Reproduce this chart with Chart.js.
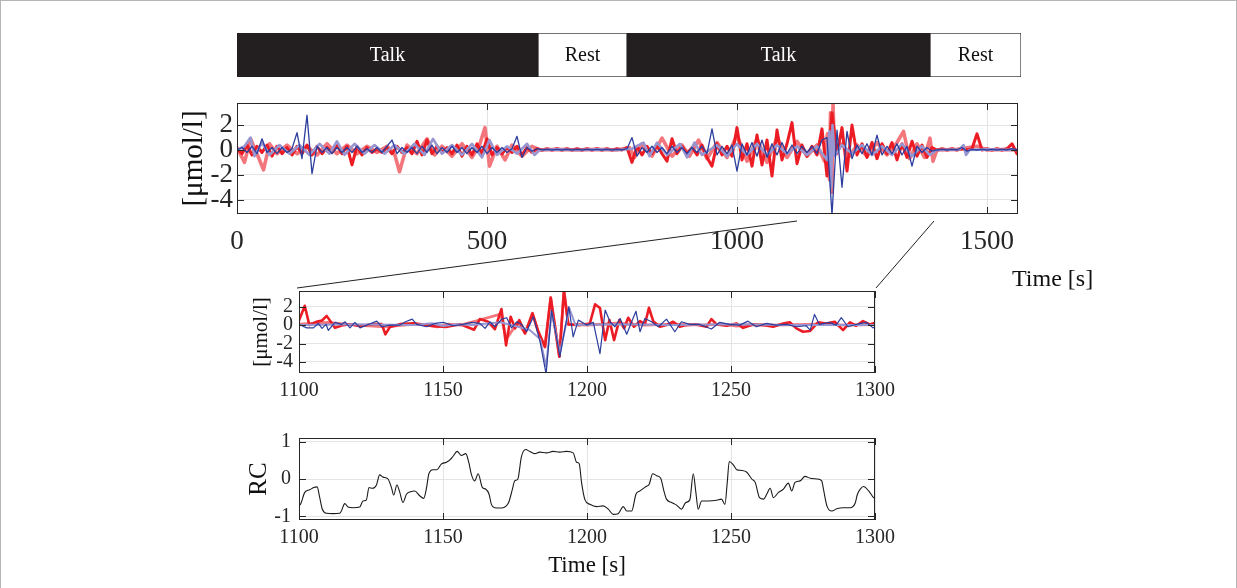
<!DOCTYPE html>
<html>
<head>
<meta charset="utf-8">
<title>Talk / Rest recording</title>
<script src="https://cdn.jsdelivr.net/npm/chart.js@4.4.1/dist/chart.umd.min.js"></script>
<style>
  body { margin: 0; width: 1237px; height: 588px; position: relative; overflow: hidden; background: #fff; }
  canvas, svg, .lbl, .page { position: absolute; }
  .page { left: 0; top: 0; width: 1235px; height: 620px; border: 1px solid #b5b5b5; }
  .lbl { font-family: 'Liberation Serif', 'Times New Roman', serif; color: #111; white-space: nowrap; }
</style>
</head>
<body>
<div class="page"></div>
<canvas id="phases" width="784" height="44" style="left:237px;top:33px"></canvas>
<canvas id="overview" width="875" height="180" style="left:165px;top:90px"></canvas>
<canvas id="zoomed" width="660" height="125" style="left:240px;top:283px"></canvas>
<canvas id="rc" width="660" height="160" style="left:240px;top:428px"></canvas>
<svg width="1237" height="588" style="left:0;top:0">
  <line x1="797" y1="221" x2="297" y2="288" stroke="#222" stroke-width="1"/>
  <line x1="934" y1="221" x2="876" y2="288" stroke="#222" stroke-width="1"/>
</svg>
<div class="lbl" style="left:1012px;top:263px;font-size:24px;line-height:30px">Time [s]</div>

<script>
const SERIF = "'Liberation Serif', 'Times New Roman', serif";
const INK = '#262626';
const GRID = '#e4e4e4';

// protocol blocks (seconds)
const phaseLabels = ['Talk', 'Rest', 'Talk', 'Rest'];
const phaseLengths = [602, 178, 606, 182];

// overview, dark series on a 10 s grid
const topStep = 10;
const topRed = [
  0.1, -0.3, 0.4, -0.4, 0.3, -0.2, 0.4, -0.5, 0.3, -0.3,
  0.2, -0.4, 0.3, -0.3, 0.4, -0.4, 0.3, -0.3, 0.2, -0.2,
  0.4, -0.3, 0.3, -1.2, 0.3, -0.4, 0.2, -0.2, 0.1, -0.2,
  0.2, -0.3, 0.3, -0.2, 0.2, -0.3, 0.7, -0.4, 0.8, -0.3,
  0.3, -0.2, 0.2, -0.3, 0.4, -0.5, 0.3, -0.4, 0.5, -0.3,
  0.9, -0.4, 0.2, -0.3, 0.2, -0.2, 0.3, -0.4, 0.2, -0.2,
  0.1, 0, 0.1, 0, 0.1, 0, 0.1, 0, 0.1, 0,
  0.1, 0, 0.1, 0, 0.1, 0, 0.1, 0, 0.2, -1.0,
  0.3, -0.4, 0.3, -0.3, 0.4, -0.3, -0.9, 0.9, -0.3, 0.3,
  -0.3, 0.2, -0.4, 0.4, -0.6, -1.3, 0.5, -0.4, 0.3, -0.5,
  1.8, -0.8, 0.5, -1.3, 1.2, -1.2, 0.8, -2.1, 1.6, -0.8,
  0.5, 2.2, -1.1, 0.4, -0.5, 0.3, -0.4, 1.7, -2.1, 3.0,
  -0.3, 1.8, -1.7, 2.0, -0.4, 0.5, -0.6, 0.6, -0.7, 0.5,
  -0.3, 0.6, -0.8, 0.5, -0.6, 0.7, -0.5, 0.4, -0.6, 0.2,
  0, 0.1, 0, 0.1, 0, 0.1, 0, 0.1, 1.3, 0,
  0.1, 0, 0.1, 0, 0.1, 0.5, -0.3
];
const topBlue = [
  0, 0.2, -0.2, 0.3, -0.3, 0.9, -0.2, 0.2, -0.3, 0.2,
  -0.2, 0.1, 1.4, -0.7, 2.8, -1.9, 0.3, -0.2, 0.2, -0.3,
  0.2, -0.2, 0.2, -0.2, 0.3, -0.2, 0.1, -0.2, 0.2, -0.2,
  0.3, 0.8, -0.3, 0.2, -0.2, 0.2, -0.3, 0.3, -0.2, 0.4,
  -0.3, 0.2, -0.2, 0.3, -0.2, 0.2, -0.3, 0.2, -0.2, 0.3,
  -0.3, 0.2, -0.2, 0.2, -0.2, 0.1, 1.1, -0.6, 0.2, -0.1,
  0.1, 0, 0.05, 0, 0.05, 0, 0.05, 0, 0.05, 0,
  0.05, 0, 0.05, 0, 0.05, 0, 0.05, 0, 0.1, 1.0,
  -0.5, 0.2, -0.2, 0.3, -0.2, 0.2, -0.3, 0.3, -0.2, 0.2,
  -0.3, 0.2, -0.2, 0.3, -0.3, 1.7, -0.4, 0.3, -0.3, 0.4,
  -1.7, 0.5, -0.4, 0.6, -0.5, 0.8, -0.6, 0.5, -0.4, 0.6,
  -0.3, 0.4, -0.3, 0.3, -0.2, 0.3, -0.3, 0.8, 1.0, -5.2,
  1.6, -3.0, 1.5, -0.7, 0.4, -0.3, 0.5, -0.4, 1.2, -0.4,
  0.3, -0.3, 0.5, -0.4, 0.3, -1.3, 0.3, -0.2, 0.2, -0.1,
  0, 0.05, 0, 0.05, 0, 0.2, -0.1, 0.05, 0, 0.05,
  0, 0.05, 0, 0.05, 0, 0.1, 0
];

// overview, light series (irregular times)
const topPinkT = [
  0, 15, 27, 40, 53, 65, 80, 100, 120, 140,
  160, 180, 200, 220, 240, 260, 280, 300, 315, 325,
  340, 360, 380, 395, 410, 430, 450, 470, 485, 496,
  505, 520, 536, 550, 570, 590, 605, 640, 680, 720,
  760, 785, 795, 810, 830, 850, 870, 890, 905, 923,
  940, 960, 980, 1000, 1020, 1040, 1060, 1080, 1100, 1120,
  1140, 1160, 1175, 1181, 1185, 1187, 1190, 1192, 1195, 1210,
  1225, 1240, 1260, 1280, 1300, 1320, 1333, 1345, 1360, 1375,
  1386, 1392, 1400, 1440, 1480, 1500, 1540, 1560
];
const topPinkV = [
  0.2, -1.0, 0.9, -0.3, -1.6, 0.5, -0.3, 0.4, -0.3, 0.3,
  -0.4, 0.5, -0.3, 0.4, -0.3, 0.3, -0.2, 0.3, -0.3, -1.75,
  0.4, -0.3, 0.9, -0.4, 0.3, -0.5, 0.5, -0.6, 0.4, 1.8,
  -1.3, 0.3, -0.8, 0.4, -0.5, 0.3, 0, 0.05, 0, 0.05,
  0, 0.2, -0.6, 0.5, -0.5, 0.95, -0.5, 0.4, -0.5, 0.8,
  -0.7, 0.6, -0.6, 1.2, -0.9, 0.9, -1.0, 1.0, -0.6, 0.7,
  -0.5, 0.4, -0.9, 1.3, -2.4, 3.0, -3.4, 3.7, 0, 0.5,
  -0.5, 0.4, -0.5, 0.6, -0.4, 0.6, 1.5, -0.7, 0.5, -0.6,
  0.95, -0.9, 0, 0.05, 0.3, 0, 0.05, 0
];
const topLilacT = [
  0, 15, 27, 35, 50, 65, 85, 105, 125, 145,
  165, 185, 200, 215, 235, 255, 275, 295, 315, 335,
  355, 375, 392, 410, 430, 450, 470, 490, 505, 520,
  540, 560, 580, 595, 605, 640, 680, 720, 760, 790,
  813, 825, 840, 860, 886, 900, 915, 930, 960, 980,
  1000, 1020, 1040, 1060, 1080, 1100, 1120, 1140, 1160, 1180,
  1185, 1188, 1191, 1195, 1210, 1230, 1250, 1270, 1290, 1310,
  1330, 1350, 1370, 1385, 1400, 1445, 1453, 1458, 1465, 1500,
  1560
];
const topLilacV = [
  0, 0.3, 1.0, -0.5, 0.6, -0.4, 0.4, -0.3, 0.4, -0.4,
  0.5, -0.3, 0.7, -0.4, 0.5, -0.3, 0.4, -0.3, 0.4, -0.3,
  0.5, -0.4, 0.9, -0.3, 0.4, -0.4, 0.5, -0.6, 0.8, -0.4,
  0.3, -0.3, 0.5, -0.4, 0, 0.05, 0, 0.05, 0, 0.1,
  0.6, -0.5, 0.6, -0.4, 0.5, -0.6, 0.6, -0.4, 0.4, -0.5,
  0.5, -0.4, 0.5, -0.4, 0.4, -0.3, 0.3, -0.4, 0.3, -0.8,
  1.5, -3.0, 2.0, -0.5, 0.4, -0.3, 0.4, -0.4, 0.3, -0.4,
  0.5, -0.5, 0.3, -0.4, 0, 0.05, 0.4, -0.4, 0, 0.05,
  0
];

// zoom window 1100-1300 s
const zoomRedT = [
  1100, 1102, 1103.6, 1106, 1108, 1109.6, 1112.5, 1115.4, 1117.7, 1121,
  1125.8, 1128.7, 1130, 1131.6, 1135, 1139.7, 1142.6, 1146, 1151, 1156,
  1160.8, 1162.8, 1165.7, 1168, 1170.3, 1171.9, 1173.5, 1175, 1176.5, 1178.5,
  1181.1, 1183.1, 1185.4, 1187.4, 1190.4, 1192, 1193.5, 1197.6, 1201, 1202.8,
  1204.5, 1206.3, 1207.8, 1209.4, 1211.2, 1212.9, 1214.3, 1216.3, 1218.4, 1220.1,
  1221.5, 1223, 1225.3, 1227.6, 1229.9, 1232.2, 1234.5, 1238, 1241.5, 1243.2,
  1245, 1248.4, 1251.9, 1254.2, 1257.7, 1261.2, 1264.6, 1268.1, 1270.4, 1272.7,
  1275, 1277.4, 1280.2, 1283.1, 1286, 1288.9, 1291.3, 1293.5, 1295.8, 1298.2,
  1300
];
const zoomRedV = [
  0.5, 2.1, 0, 0.35, 0.5, 1.0, -0.3, 0, 0.1, -0.1,
  0.1, 0.1, -1.0, -0.2, 0.1, 0.2, 0.1, -0.1, -0.2, 0.1,
  -0.5, 0.65, 0.36, -0.45, 1.75, -2.2, 0.9, -0.36, 0.54, -0.9,
  1.27, -0.7, -2.35, 2.97, -3.44, 3.7, 0.07, 0, 0.18, 2.25,
  1.85, -1.63, 0.54, -1.63, 0.54, -0.36, 0.8, -0.18, 0.43, 0.07,
  1.88, 0.43, -0.18, 0, 0.36, -0.18, 0, 0.07, -0.18, 0.65,
  0.07, -0.07, 0.18, -0.3, 0.07, 0, -0.18, 0.18, 0.3, -0.36,
  -0.72, -0.65, 0.3, 0.18, 0.36, -0.54, 0.3, -0.07, 0.43, 0.07,
  0.25
];
const zoomBlueT = [
  1100, 1102.7, 1105, 1106.7, 1108, 1109.4, 1110.2, 1112.5, 1114.8, 1116,
  1117.7, 1119.4, 1121.2, 1124, 1127, 1128.7, 1131.6, 1135, 1137, 1139.3,
  1140.9, 1144.3, 1147.2, 1150.1, 1153.6, 1157, 1160, 1162.8, 1164.6, 1166.3,
  1168, 1170.4, 1172.1, 1173.8, 1175.6, 1177.3, 1179, 1181.4, 1183.7, 1185.8,
  1187.7, 1190.6, 1193.7, 1195.2, 1197, 1199.9, 1202.2, 1204.5, 1206.3, 1208,
  1209.7, 1211.5, 1213.8, 1215.5, 1217, 1218.4, 1220.1, 1222.4, 1224.8, 1227.6,
  1230.5, 1232.8, 1235.7, 1239.2, 1243.2, 1246.1, 1249.5, 1253, 1255.9, 1258.8,
  1262.3, 1265.7, 1269.2, 1272.7, 1276.1, 1277.5, 1279, 1280.7, 1284.2, 1286.5,
  1288.3, 1290.6, 1293.5, 1297, 1299.3, 1300
];
const zoomBlueV = [
  0.07, -0.3, -0.3, 0.18, -0.36, 0.07, -0.58, 0.3, 0.07, 0.36,
  -0.3, 0.3, -0.3, 0.07, 0.43, -0.18, 0, 0, 0.36, 0.65,
  0.07, -0.18, 0.18, 0.3, -0.07, 0.07, 0.3, 0.18, -0.36, 0.36,
  -0.18, 0.65, 0.8, -0.3, 0.36, 0.07, -0.72, 0.9, -1.8, -5.3,
  1.6, -3.4, 2.0, -1.27, 0.54, 0, 0.3, -3.1, 1.63, 0.36,
  -0.18, 0.72, -1.0, 0.36, 1.5, -0.72, 0.72, 0.36, -0.18, 0.65,
  -0.72, 0.36, 0.07, 0.07, -0.43, 0.3, 0.07, 0, 0.43, -0.18,
  0.18, 0, 0.07, -0.18, -0.07, -0.54, 1.16, 0.07, 0.3, 0,
  0.8, -0.18, 0.07, 0.3, -0.3, -0.2
];
const zoomPinkT = [
  1100, 1110, 1120, 1130, 1140, 1145, 1148, 1152, 1156, 1162,
  1170, 1172, 1176, 1178.5, 1181, 1183, 1185.4, 1187.4, 1190.4, 1192,
  1193.5, 1200, 1210, 1220, 1230, 1240, 1247, 1252, 1256, 1265,
  1280, 1290, 1300
];
const zoomPinkV = [
  0.1, 0.3, 0, -0.2, 0.1, 0, -0.2, 0.1, 0, 0.5,
  1.2, -1.5, 0.3, -0.9, 1.3, -0.7, -2.4, 3.0, -3.4, 3.8,
  0.1, 0, 0.2, 0, 0.1, 0, 0.1, -0.1, 0.05, 0,
  0.1, 0, 0.05
];
const zoomLilacT = [1100, 1120, 1140, 1146, 1150, 1155, 1160, 1170, 1180, 1183.7,
  1185.8, 1187.7, 1190.6, 1193.9, 1196, 1210, 1230, 1250, 1270, 1300];
const zoomLilacV = [0, 0.1, 0, 0.2, -0.1, 0.1, 0, 0.3, -0.5, -1.5,
  -4.5, 1.4, -3.0, 1.8, 0, 0.1, 0, 0.1, 0, 0];

// RC trace 1100-1300 s
const rcT = [
  1100, 1100.5, 1102, 1103.7, 1105.1, 1106.3, 1107.2, 1108.1, 1109.7, 1111.8,
  1114.1, 1114.7, 1115.9, 1117, 1118.8, 1121.1, 1122.2, 1123.4, 1124.3, 1125.5,
  1126.9, 1128, 1129.2, 1130.9, 1132.1, 1132.9, 1134, 1135, 1136.1, 1137.3,
  1138.7, 1140.2, 1141.9, 1143.3, 1144.2, 1145.1, 1146.5, 1147.9, 1149.4, 1151.2,
  1152.5, 1153.5, 1154.9, 1156.4, 1157.9, 1159, 1159.8, 1161, 1162.2, 1163.7,
  1164.8, 1166, 1166.8, 1167.9, 1170.3, 1172, 1172.9, 1174.1, 1174.9, 1176,
  1177.2, 1178.7, 1180.1, 1181.8, 1183.6, 1185.9, 1188.2, 1190.5, 1192.9, 1195.2,
  1196.4, 1197.3, 1198.1, 1199.3, 1201, 1203.3, 1205.6, 1207.4, 1209.1, 1210.8,
  1212.6, 1213.8, 1215.5, 1217, 1218.4, 1220.5, 1221.6, 1222.8, 1224.2, 1225.6,
  1226.7, 1227.6, 1229.4, 1231.1, 1232.8, 1234.3, 1235.7, 1236.9, 1237.8, 1238.6,
  1239.8, 1242.1, 1245, 1246.7, 1247.9, 1248.7, 1249.4, 1250.8, 1252, 1253.7,
  1255.5, 1257.2, 1258.4, 1259.9, 1261.3, 1262.4, 1263.6, 1264.7, 1266.5, 1268.2,
  1269.9, 1271.1, 1272.2, 1274, 1275.7, 1277.5, 1279.8, 1281.5, 1282.1, 1283.3,
  1285, 1286.7, 1289, 1291.4, 1293.1, 1293.9, 1294.9, 1296, 1297.8, 1299.5,
  1300
];
const rcV = [
  -0.7, -0.68, -0.36, -0.29, -0.23, -0.21, -0.5, -0.81, -0.92, -0.93,
  -0.92, -0.86, -0.66, -0.75, -0.77, -0.75, -0.59, -0.56, -0.23, -0.25,
  -0.16, 0.11, 0.05, 0, -0.23, -0.43, -0.16, -0.36, -0.63, -0.41,
  -0.34, -0.32, -0.45, -0.52, -0.27, 0.14, 0.25, 0.25, 0.4, 0.45,
  0.52, 0.61, 0.74, 0.63, 0.68, 0.43, 0.14, -0.05, 0.14, -0.23,
  -0.27, -0.41, -0.68, -0.77, -0.78, -0.72, -0.61, -0.27, -0.05, 0,
  0.59, 0.79, 0.74, 0.68, 0.72, 0.7, 0.74, 0.72, 0.74, 0.7,
  0.45, 0.41, -0.09, -0.56, -0.68, -0.74, -0.72, -0.81, -0.95, -0.93,
  -0.74, -0.86, -0.86, -0.41, -0.32, -0.2, -0.14, 0.14, 0.09, 0.02,
  -0.32, -0.54, -0.63, -0.7, -0.81, -0.63, -0.56, 0.14, -0.36, -0.81,
  -0.59, -0.59, -0.57, -0.54, -0.68, -0.09, 0.47, 0.38, 0.25, 0.23,
  0.18, 0, -0.09, -0.5, -0.54, -0.41, -0.25, -0.5, -0.36, -0.27,
  -0.11, -0.32, -0.09, -0.05, 0.07, 0.02, 0, -0.05, -0.27, -0.72,
  -0.86, -0.8, -0.77, -0.77, -0.65, -0.41, -0.27, -0.2, -0.32, -0.5,
  -0.52
];

const signalTicks = [-4, -2, 0, 2];
const overviewTicks = [0, 500, 1000, 1500];
const zoomTicks = [1100, 1150, 1200, 1250, 1300];
const rcTicks = [-1, 0, 1];

const pts = (ts, vs) => ts.map((t, i) => ({ x: t, y: vs[i] }));
const grid = (vs, step) => vs.map((v, i) => ({ x: i * step, y: v }));

// box + inward tick marks, like the matlab axes
const framePlugin = {
  id: 'frame',
  afterDraw(chart) {
    const { ctx, chartArea: a, scales } = chart;
    const len = 7;
    ctx.save();
    ctx.strokeStyle = INK;
    ctx.lineWidth = 1;
    ctx.strokeRect(Math.round(a.left) + 0.5, Math.round(a.top) + 0.5, Math.round(a.width) - 1, Math.round(a.height) - 1);
    ctx.beginPath();
    scales.x.ticks.forEach(t => {
      const px = Math.round(scales.x.getPixelForValue(t.value)) + 0.5;
      ctx.moveTo(px, a.top); ctx.lineTo(px, a.top + len);
      ctx.moveTo(px, a.bottom); ctx.lineTo(px, a.bottom - len);
    });
    scales.y.ticks.forEach(t => {
      const py = Math.round(scales.y.getPixelForValue(t.value)) + 0.5;
      ctx.moveTo(a.left, py); ctx.lineTo(a.left + len, py);
      ctx.moveTo(a.right, py); ctx.lineTo(a.right - len, py);
    });
    ctx.stroke();
    ctx.restore();
  }
};

function lineSet(data, color, width) {
  return { data: data, borderColor: color, borderWidth: width, pointRadius: 0, tension: 0, fill: false,
           borderJoinStyle: 'round', borderCapStyle: 'round' };
}

function signalChart(id, c) {
  return new Chart(document.getElementById(id), {
    type: 'line',
    data: { datasets: c.datasets },
    options: {
      responsive: false,
      animation: false,
      devicePixelRatio: 1,
      layout: { padding: c.padding },
      plugins: { legend: { display: false }, tooltip: { enabled: false } },
      scales: {
        x: {
          type: 'linear', min: c.xMin, max: c.xMax,
          afterBuildTicks: s => { s.ticks = c.xTicks.map(v => ({ value: v })); },
          afterFit: s => { s.height = c.xHeight; s.paddingLeft = 0; s.paddingRight = 0; },
          grid: { color: GRID, drawTicks: false },
          border: { display: false },
          ticks: { autoSkip: false, maxRotation: 0, padding: c.xPad, color: INK,
                   font: { family: SERIF, size: c.tickSize }, callback: v => String(v) },
          title: { display: !!c.xTitle, text: c.xTitle || '', color: '#111',
                   font: { family: SERIF, size: 23 }, padding: { top: 0, bottom: 8 } }
        },
        y: {
          min: c.yMin, max: c.yMax,
          afterBuildTicks: s => { s.ticks = c.yTicks.map(v => ({ value: v })); },
          afterFit: s => { s.width = c.yWidth; s.paddingTop = 0; s.paddingBottom = 0; },
          grid: { color: GRID, drawTicks: false },
          border: { display: false },
          ticks: { autoSkip: false, padding: c.yPad, color: INK,
                   font: { family: SERIF, size: c.tickSize }, callback: v => String(v) },
          title: { display: true, text: c.yTitle, color: '#111',
                   font: { family: SERIF, size: c.yTitleSize }, padding: { top: c.yTitlePad, bottom: 0 } }
        }
      }
    },
    plugins: [framePlugin]
  });
}

// talk / rest strip
const phaseText = {
  id: 'phaseText',
  afterDatasetsDraw(chart) {
    const ctx = chart.ctx;
    ctx.save();
    ctx.font = '20px ' + SERIF;
    ctx.textAlign = 'center';
    ctx.textBaseline = 'middle';
    chart.data.datasets.forEach((ds, i) => {
      const bar = chart.getDatasetMeta(i).data[0];
      ctx.fillStyle = ds.label === 'Talk' ? '#ffffff' : '#111111';
      ctx.fillText(ds.label, (bar.x + bar.base) / 2, bar.y + 1);
    });
    ctx.restore();
  }
};

new Chart(document.getElementById('phases'), {
  type: 'bar',
  data: {
    labels: ['session'],
    datasets: phaseLabels.map((name, i) => ({
      label: name,
      data: [phaseLengths[i]],
      backgroundColor: name === 'Talk' ? '#231f20' : '#ffffff',
      borderColor: name === 'Talk' ? '#231f20' : '#444444',
      borderWidth: 1,
      borderSkipped: false,
      barPercentage: 1,
      categoryPercentage: 1
    }))
  },
  options: {
    indexAxis: 'y',
    responsive: false,
    animation: false,
    devicePixelRatio: 1,
    layout: { padding: 0 },
    plugins: { legend: { display: false }, tooltip: { enabled: false } },
    scales: {
      x: { stacked: true, display: false, min: 0, max: 1568 },
      y: { stacked: true, display: false }
    }
  },
  plugins: [phaseText]
});

// dataset 0 is drawn on top
signalChart('overview', {
  datasets: [
    lineSet(grid(topBlue, topStep), '#2c3e9e', 1.3),
    lineSet(pts(topLilacT, topLilacV), '#9896d1', 2.6),
    lineSet(grid(topRed, topStep), '#ec1c24', 3),
    lineSet(pts(topPinkT, topPinkV), '#f3767c', 3.6)
  ],
  padding: { left: 0, right: 22, top: 13, bottom: 0 },
  xMin: 0, xMax: 1562, xTicks: overviewTicks, xHeight: 56, xPad: 12,
  yMin: -5.15, yMax: 3.78, yTicks: signalTicks, yWidth: 72, yPad: 4,
  tickSize: 27, yTitle: '[\u03bcmol/l]', yTitleSize: 29, yTitlePad: 12
});

signalChart('zoomed', {
  datasets: [
    lineSet(pts(zoomBlueT, zoomBlueV), '#2c3e9e', 1.2),
    lineSet(pts(zoomLilacT, zoomLilacV), '#9896d1', 2),
    lineSet(pts(zoomRedT, zoomRedV), '#ec1c24', 2.6),
    lineSet(pts(zoomPinkT, zoomPinkV), '#f3767c', 2.8)
  ],
  padding: { left: 0, right: 25, top: 8, bottom: 0 },
  xMin: 1100, xMax: 1300, xTicks: zoomTicks, xHeight: 35, xPad: 6,
  yMin: -5.2, yMax: 3.7, yTicks: signalTicks, yWidth: 59, yPad: 6,
  tickSize: 20, yTitle: '[\u03bcmol/l]', yTitleSize: 21, yTitlePad: 9
});

const rcSet = lineSet(pts(rcT, rcV), '#1a1a1a', 1.1);
rcSet.cubicInterpolationMode = 'monotone';
signalChart('rc', {
  datasets: [rcSet],
  padding: { left: 0, right: 25, top: 10, bottom: 0 },
  xMin: 1100, xMax: 1300, xTicks: zoomTicks, xHeight: 68, xPad: 6, xTitle: 'Time [s]',
  yMin: -1.1, yMax: 1.1, yTicks: rcTicks, yWidth: 59, yPad: 8,
  tickSize: 20, yTitle: 'RC', yTitleSize: 25, yTitlePad: 4
});
</script>
</body>
</html>
